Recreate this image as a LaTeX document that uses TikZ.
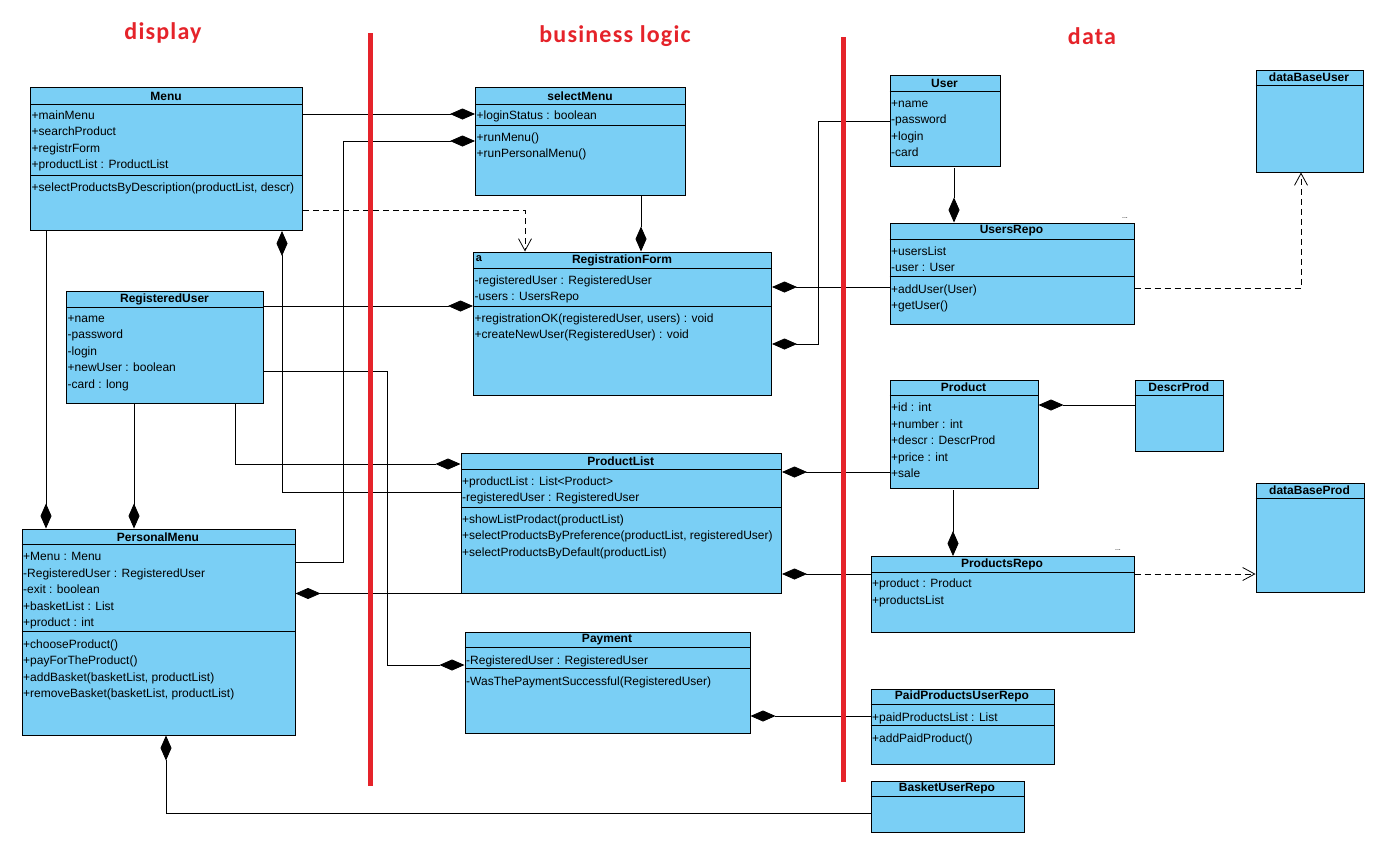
\documentclass[tikz,border=0pt]{standalone}
\usepackage{fontspec}
\setmainfont{Liberation Sans}
\newfontfamily\titlefont{Carlito}[LetterSpace=5]
\usetikzlibrary{arrows.meta}
\definecolor{clsfill}{RGB}{122,207,245}
\definecolor{layerred}{RGB}{229,35,42}

\begin{document}
\begin{tikzpicture}[
    x=1pt, y=-1pt,
    cls/.style={rectangle, draw=black, fill=clsfill, line width=1pt, anchor=north west, inner sep=0pt},
    head/.style={font=\fontsize{12}{14}\selectfont\bfseries, inner sep=0pt},
    attr/.style={font=\fontsize{12}{16.5}\selectfont, align=left, anchor=north west, inner sep=0pt},
    part/.style={line width=1pt},
    layer/.style={font=\titlefont\fontsize{24}{28}\selectfont\bfseries, text=layerred, inner sep=0pt, anchor=base},
    wall/.style={draw=layerred, line width=5pt},
    comp/.style={{Diamond[length=25pt, width=11pt]}-, line width=0.8pt},
    dep/.style={-{Straight Barb[length=12pt, width=13pt]}, dash pattern=on 6pt off 4pt, line width=0.8pt},
    ]

    \path[use as bounding box, fill=white] (0,0) rectangle (1381,841);

    % Layer titles
    \node[layer] (display) at (163,39) {display};
    \node[layer] (busLogic) at (615,42) {business logic};
    \node[layer] (data) at (1092,44) {data};

    % Display classes
    \node[cls, minimum width=272pt, minimum height=143pt] (menu) at (30,87) {};
    \node[head] (menuT) at (166,96) {Menu};
    \draw[part] (menu.west |- 0,104) -- (menu.east |- 0,104);
    \draw[part] (menu.west |- 0,175) -- (menu.east |- 0,175);
    \node[attr] (menuA) at (31.5,110.3) {+mainMenu\\+searchProduct\\+registrForm\\+productList : ProductList};
    \node[attr] (menuM) at (31.5,182.8) {+selectProductsByDescription(productList, descr)};

    \node[cls, minimum width=197pt, minimum height=112pt] (regUser) at (66,291) {};
    \node[head] (regUserT) at (164.5,299.5) {RegisteredUser};
    \draw[part] (regUser.west |- 0,307) -- (regUser.east |- 0,307);
    \node[attr] (regUserA) at (67.5,315.3) {+name\\-password\\-login\\+newUser : boolean\\-card : long};

    \node[cls, minimum width=273pt, minimum height=206pt] (persMenu) at (21.5,528.5) {};
    \node[head] (persMenuT) at (158,537) {PersonalMenu};
    \draw[part] (persMenu.west |- 0,544.5) -- (persMenu.east |- 0,544.5);
    \draw[part] (persMenu.west |- 0,631.5) -- (persMenu.east |- 0,631.5);
    \node[attr] (persMenuA) at (23,552.3) {+Menu : Menu\\-RegisteredUser : RegisteredUser\\-exit : boolean\\+basketList : List\\+product : int};
    \node[attr] (persMenuM) at (23,639.3) {+chooseProduct()\\+payForTheProduct()\\+addBasket(basketList, productList)\\+removeBasket(basketList, productList)};

    % Business logic classes
    \node[cls, minimum width=210pt, minimum height=108pt] (selMenu) at (475,87) {};
    \node[head] (selMenuT) at (580,96) {selectMenu};
    \draw[part] (selMenu.west |- 0,104) -- (selMenu.east |- 0,104);
    \draw[part] (selMenu.west |- 0,125) -- (selMenu.east |- 0,125);
    \node[attr] (selMenuA) at (476.5,110.3) {+loginStatus : boolean};
    \node[attr] (selMenuM) at (476.5,132.3) {+runMenu()\\+runPersonalMenu()};

    \node[cls, minimum width=298pt, minimum height=143pt] (regForm) at (473,251.5) {};
    \node[head] (regFormT) at (622,260) {RegistrationForm};
    \node[font=\fontsize{11}{13}\selectfont\bfseries, inner sep=0pt] (regFormK) at (479,258.5) {a};
    \draw[part] (regForm.west |- 0,268) -- (regForm.east |- 0,268);
    \draw[part] (regForm.west |- 0,306) -- (regForm.east |- 0,306);
    \node[attr] (regFormA) at (474.5,275.3) {-registeredUser : RegisteredUser\\-users : UsersRepo};
    \node[attr] (regFormM) at (474.5,313.3) {+registrationOK(registeredUser, users) : void\\+createNewUser(RegisteredUser) : void};

    \node[cls, minimum width=320.5pt, minimum height=139.5pt] (prodList) at (460.5,453) {};
    \node[head] (prodListT) at (620.75,461) {ProductList};
    \draw[part] (prodList.west |- 0,469) -- (prodList.east |- 0,469);
    \draw[part] (prodList.west |- 0,507) -- (prodList.east |- 0,507);
    \node[attr] (prodListA) at (462,476.3) {+productList : List<Product>\\-registeredUser : RegisteredUser};
    \node[attr] (prodListM) at (462,514.3) {+showListProdact(productList)\\+selectProductsByPreference(productList, registeredUser)\\+selectProductsByDefault(productList)};

    \node[cls, minimum width=285pt, minimum height=101pt] (payment) at (464.5,631.5) {};
    \node[head] (paymentT) at (607,640) {Payment};
    \draw[part] (payment.west |- 0,647.5) -- (payment.east |- 0,647.5);
    \draw[part] (payment.west |- 0,668.5) -- (payment.east |- 0,668.5);
    \node[attr] (paymentA) at (466,655.3) {-RegisteredUser : RegisteredUser};
    \node[attr] (paymentM) at (466,676.3) {-WasThePaymentSuccessful(RegisteredUser)};

    % Data classes
    \node[cls, minimum width=110pt, minimum height=90.5pt] (user) at (889.5,75) {};
    \node[head] (userT) at (944.5,83.5) {User};
    \draw[part] (user.west |- 0,91.5) -- (user.east |- 0,91.5);
    \node[attr] (userA) at (891,100.3) {+name\\-password\\+login\\-card};

    \node[cls, minimum width=107.5pt, minimum height=102pt] (dbUser) at (1255.5,69.5) {};
    \node[head] (dbUserT) at (1309,77.5) {dataBaseUser};
    \draw[part] (dbUser.west |- 0,85.5) -- (dbUser.east |- 0,85.5);

    \node[cls, minimum width=244pt, minimum height=101.5pt] (usersRepo) at (889.5,222.5) {};
    \node[head] (usersRepoT) at (1011.5,231) {UsersRepo};
    \node[font=\fontsize{7}{8}\selectfont, inner sep=0pt] (usersRepoK) at (1125,218) {...};
    \draw[part] (usersRepo.west |- 0,239) -- (usersRepo.east |- 0,239);
    \draw[part] (usersRepo.west |- 0,276.5) -- (usersRepo.east |- 0,276.5);
    \node[attr] (usersRepoA) at (891,246.3) {+usersList\\-user : User};
    \node[attr] (usersRepoM) at (891,284.3) {+addUser(User)\\+getUser()};

    \node[cls, minimum width=148pt, minimum height=108pt] (product) at (889.5,379.5) {};
    \node[head] (productT) at (963.5,387.5) {Product};
    \draw[part] (product.west |- 0,395.5) -- (product.east |- 0,395.5);
    \node[attr] (productA) at (891,403) {+id : int\\+number : int\\+descr : DescrProd\\+price : int\\+sale};

    \node[cls, minimum width=88.5pt, minimum height=71pt] (descrProd) at (1134.5,379.5) {};
    \node[head] (descrProdT) at (1178.75,387.5) {DescrProd};
    \draw[part] (descrProd.west |- 0,395.5) -- (descrProd.east |- 0,395.5);

    \node[cls, minimum width=108pt, minimum height=109pt] (dbProd) at (1255.5,482.5) {};
    \node[head] (dbProdT) at (1309.5,490.5) {dataBaseProd};
    \draw[part] (dbProd.west |- 0,498.5) -- (dbProd.east |- 0,498.5);

    \node[cls, minimum width=263pt, minimum height=75.5pt] (prodRepo) at (870.5,556) {};
    \node[head] (prodRepoT) at (1002,564) {ProductsRepo};
    \node[font=\fontsize{7}{8}\selectfont, inner sep=0pt] (prodRepoK) at (1118,550) {...};
    \draw[part] (prodRepo.west |- 0,572) -- (prodRepo.east |- 0,572);
    \node[attr] (prodRepoA) at (872,579) {+product : Product\\+productsList};

    \node[cls, minimum width=183pt, minimum height=75pt] (paidRepo) at (870.5,688.5) {};
    \node[head] (paidRepoT) at (962,696.5) {PaidProductsUserRepo};
    \draw[part] (paidRepo.west |- 0,704.5) -- (paidRepo.east |- 0,704.5);
    \draw[part] (paidRepo.west |- 0,725.5) -- (paidRepo.east |- 0,725.5);
    \node[attr] (paidRepoA) at (872,712.3) {+paidProductsList : List};
    \node[attr] (paidRepoM) at (872,733.3) {+addPaidProduct()};

    \node[cls, minimum width=153pt, minimum height=51pt] (basketRepo) at (870.5,780.5) {};
    \node[head] (basketRepoT) at (947,788.5) {BasketUserRepo};
    \draw[part] (basketRepo.west |- 0,796.5) -- (basketRepo.east |- 0,796.5);

    % Compositions
    \draw[comp] (selMenu.west |- 0,114) -- (menu.east |- 0,114);
    \draw[comp] (selMenu.west |- 0,141) -| (343,562) -- (persMenu.east |- 0,562);
    \draw[comp] (regForm.north -| 641,0) -- (selMenu.south -| 641,0);
    \draw[comp] (regForm.west |- 0,306) -- (regUser.east |- 0,306);
    \draw[comp] (payment.west |- 0,665) -| (387,371) -- (regUser.east |- 0,371);
    \draw[comp] (prodList.west |- 0,464) -| (regUser.south -| 235,0);
    \draw[comp] (menu.south -| 282,0) |- (prodList.west |- 0,492);
    \draw[comp] (persMenu.north -| 46,0) -- (menu.south -| 46,0);
    \draw[comp] (persMenu.north -| 134,0) -- (regUser.south -| 134,0);
    \draw[comp] (persMenu.east |- prodList.south west) -- (prodList.south west);
    \draw[comp] (persMenu.south -| 166,0) |- (basketRepo.west |- 0,813);
    \draw[comp] (regForm.east |- 0,344) -| (818,121) -- (user.west |- 0,121);
    \draw[comp] (regForm.east |- 0,287) -- (usersRepo.west |- 0,287);
    \draw[comp] (usersRepo.north -| 954,0) -- (954,168);
    \draw[comp] (prodRepo.north -| 953,0) -- (953,490);
    \draw[comp] (product.east |- 0,405) -- (descrProd.west |- 0,405);
    \draw[comp] (prodList.east |- 0,472) -- (product.west |- 0,472);
    \draw[comp] (prodList.east |- 0,574) -- (prodRepo.west |- 0,574);
    \draw[comp] (payment.east |- 0,716) -- (paidRepo.west |- 0,716);

    % Dependencies
    \draw[dep] (menu.east |- 0,210) -| (regForm.north -| 525,0);
    \draw[dep] (usersRepo.east |- 0,288) -| (dbUser.south -| 1301,0);
    \draw[dep] (prodRepo.east |- 0,574) -- (dbProd.west |- 0,574);

    % Layer borders
    \coordinate (wall1top) at (370,33);
    \coordinate (wall1bot) at (370,786);
    \coordinate (wall2top) at (843,37);
    \coordinate (wall2bot) at (843,782);
    \draw[wall] (wall1top) -- (wall1bot);
    \draw[wall] (wall2top) -- (wall2bot);

\end{tikzpicture}
\end{document}
